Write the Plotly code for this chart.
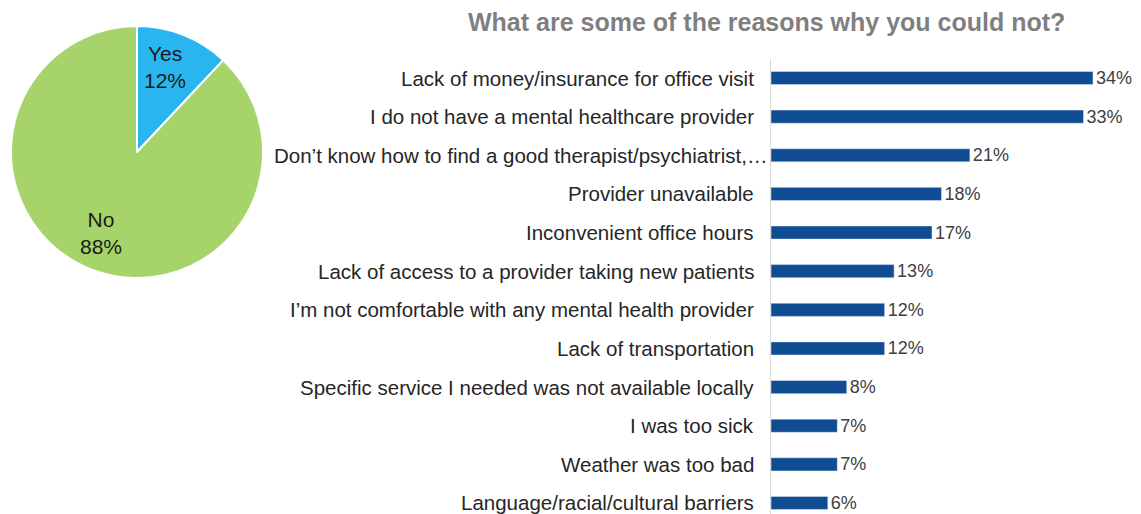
import plotly.graph_objects as go

W, H = 1141, 514

pie_labels = ["Yes", "No"]
pie_values = [12, 88]
pie_colors = ["#29B6EF", "#A6D46A"]

categories = [
    "Lack of money/insurance for office visit",
    "I do not have a mental healthcare provider",
    "Don\u2019t know how to find a good therapist/psychiatrist,\u2026",
    "Provider unavailable",
    "Inconvenient office hours",
    "Lack of access to a provider taking new patients",
    "I\u2019m not comfortable with any mental health provider",
    "Lack of transportation",
    "Specific service I needed was not available locally",
    "I was too sick",
    "Weather was too bad",
    "Language/racial/cultural barriers",
]
values = [34, 33, 21, 18, 17, 13, 12, 12, 8, 7, 7, 6]
value_labels = [f"{v}%" for v in values]

title = "What are some of the reasons why you could not?"

FONT = "Arial, Liberation Sans, sans-serif"

fig = go.Figure()

fig.add_trace(go.Pie(
    labels=pie_labels,
    values=pie_values,
    sort=False,
    direction="clockwise",
    rotation=0,
    marker=dict(colors=pie_colors, line=dict(color="white", width=2)),
    textinfo="none",
    domain=dict(x=[11 / W, 263 / W], y=[1 - 278 / H, 1 - 26 / H]),
    showlegend=False,
    hoverinfo="label+percent",
))

fig.add_trace(go.Bar(
    x=values,
    y=categories,
    orientation="h",
    marker=dict(color="#0F4C92"),
    text=value_labels,
    textposition="outside",
    constraintext="none",
    textfont=dict(family=FONT, size=18, color="#404040"),
    cliponaxis=False,
    width=0.34,
    showlegend=False,
    xaxis="x",
    yaxis="y",
))

row = 38.6
top_edge = 78 - row / 2
bottom_idx = 11 + (H - 503) / row

annotations = []

# pie labels (label + percent)
pie_label_pos = [(165, 67), (101, 233)]
total = sum(pie_values)
for lab, val, (px, py) in zip(pie_labels, pie_values, pie_label_pos):
    annotations.append(dict(
        text=f"{lab}<br>{round(100 * val / total)}%",
        x=px / W, y=1 - py / H, xref="paper", yref="paper",
        xanchor="center", yanchor="middle", showarrow=False,
        font=dict(family=FONT, size=21, color="#1a1a1a"),
    ))

# category labels, right-aligned next to the axis
for cat in categories:
    shift = -2 if cat.endswith("\u2026") else -15
    annotations.append(dict(
        text=cat, x=0, y=cat, xref="x", yref="y",
        xanchor="right", yanchor="middle", xshift=shift,
        showarrow=False,
        font=dict(family=FONT, size=20.5, color="#262626"),
    ))

annotations.append(dict(
    text="<b>" + title + "</b>",
    x=766 / W, y=1 - 22 / H,
    xref="paper", yref="paper",
    xanchor="center", yanchor="middle",
    showarrow=False,
    font=dict(family=FONT, size=25, color="#7F7F7F"),
))

fig.update_layout(
    width=W,
    height=H,
    margin=dict(l=0, r=0, t=0, b=0),
    paper_bgcolor="white",
    plot_bgcolor="white",
    font=dict(family=FONT),
    xaxis=dict(
        domain=[771 / W, (771 + 9.47 * 36) / W],
        range=[0, 36],
        showgrid=False,
        zeroline=False,
        showticklabels=False,
        showline=False,
    ),
    yaxis=dict(
        domain=[0, 1 - top_edge / H],
        type="category",
        categoryorder="array",
        categoryarray=categories,
        range=[bottom_idx, -0.5],
        showgrid=False,
        zeroline=False,
        showline=True,
        linecolor="#D9D9D9",
        linewidth=1,
        ticks="",
        showticklabels=False,
    ),
    annotations=annotations,
)

fig.write_html("out.html", config={"displayModeBar": False},
               post_script="document.body.style.margin='0px';")
